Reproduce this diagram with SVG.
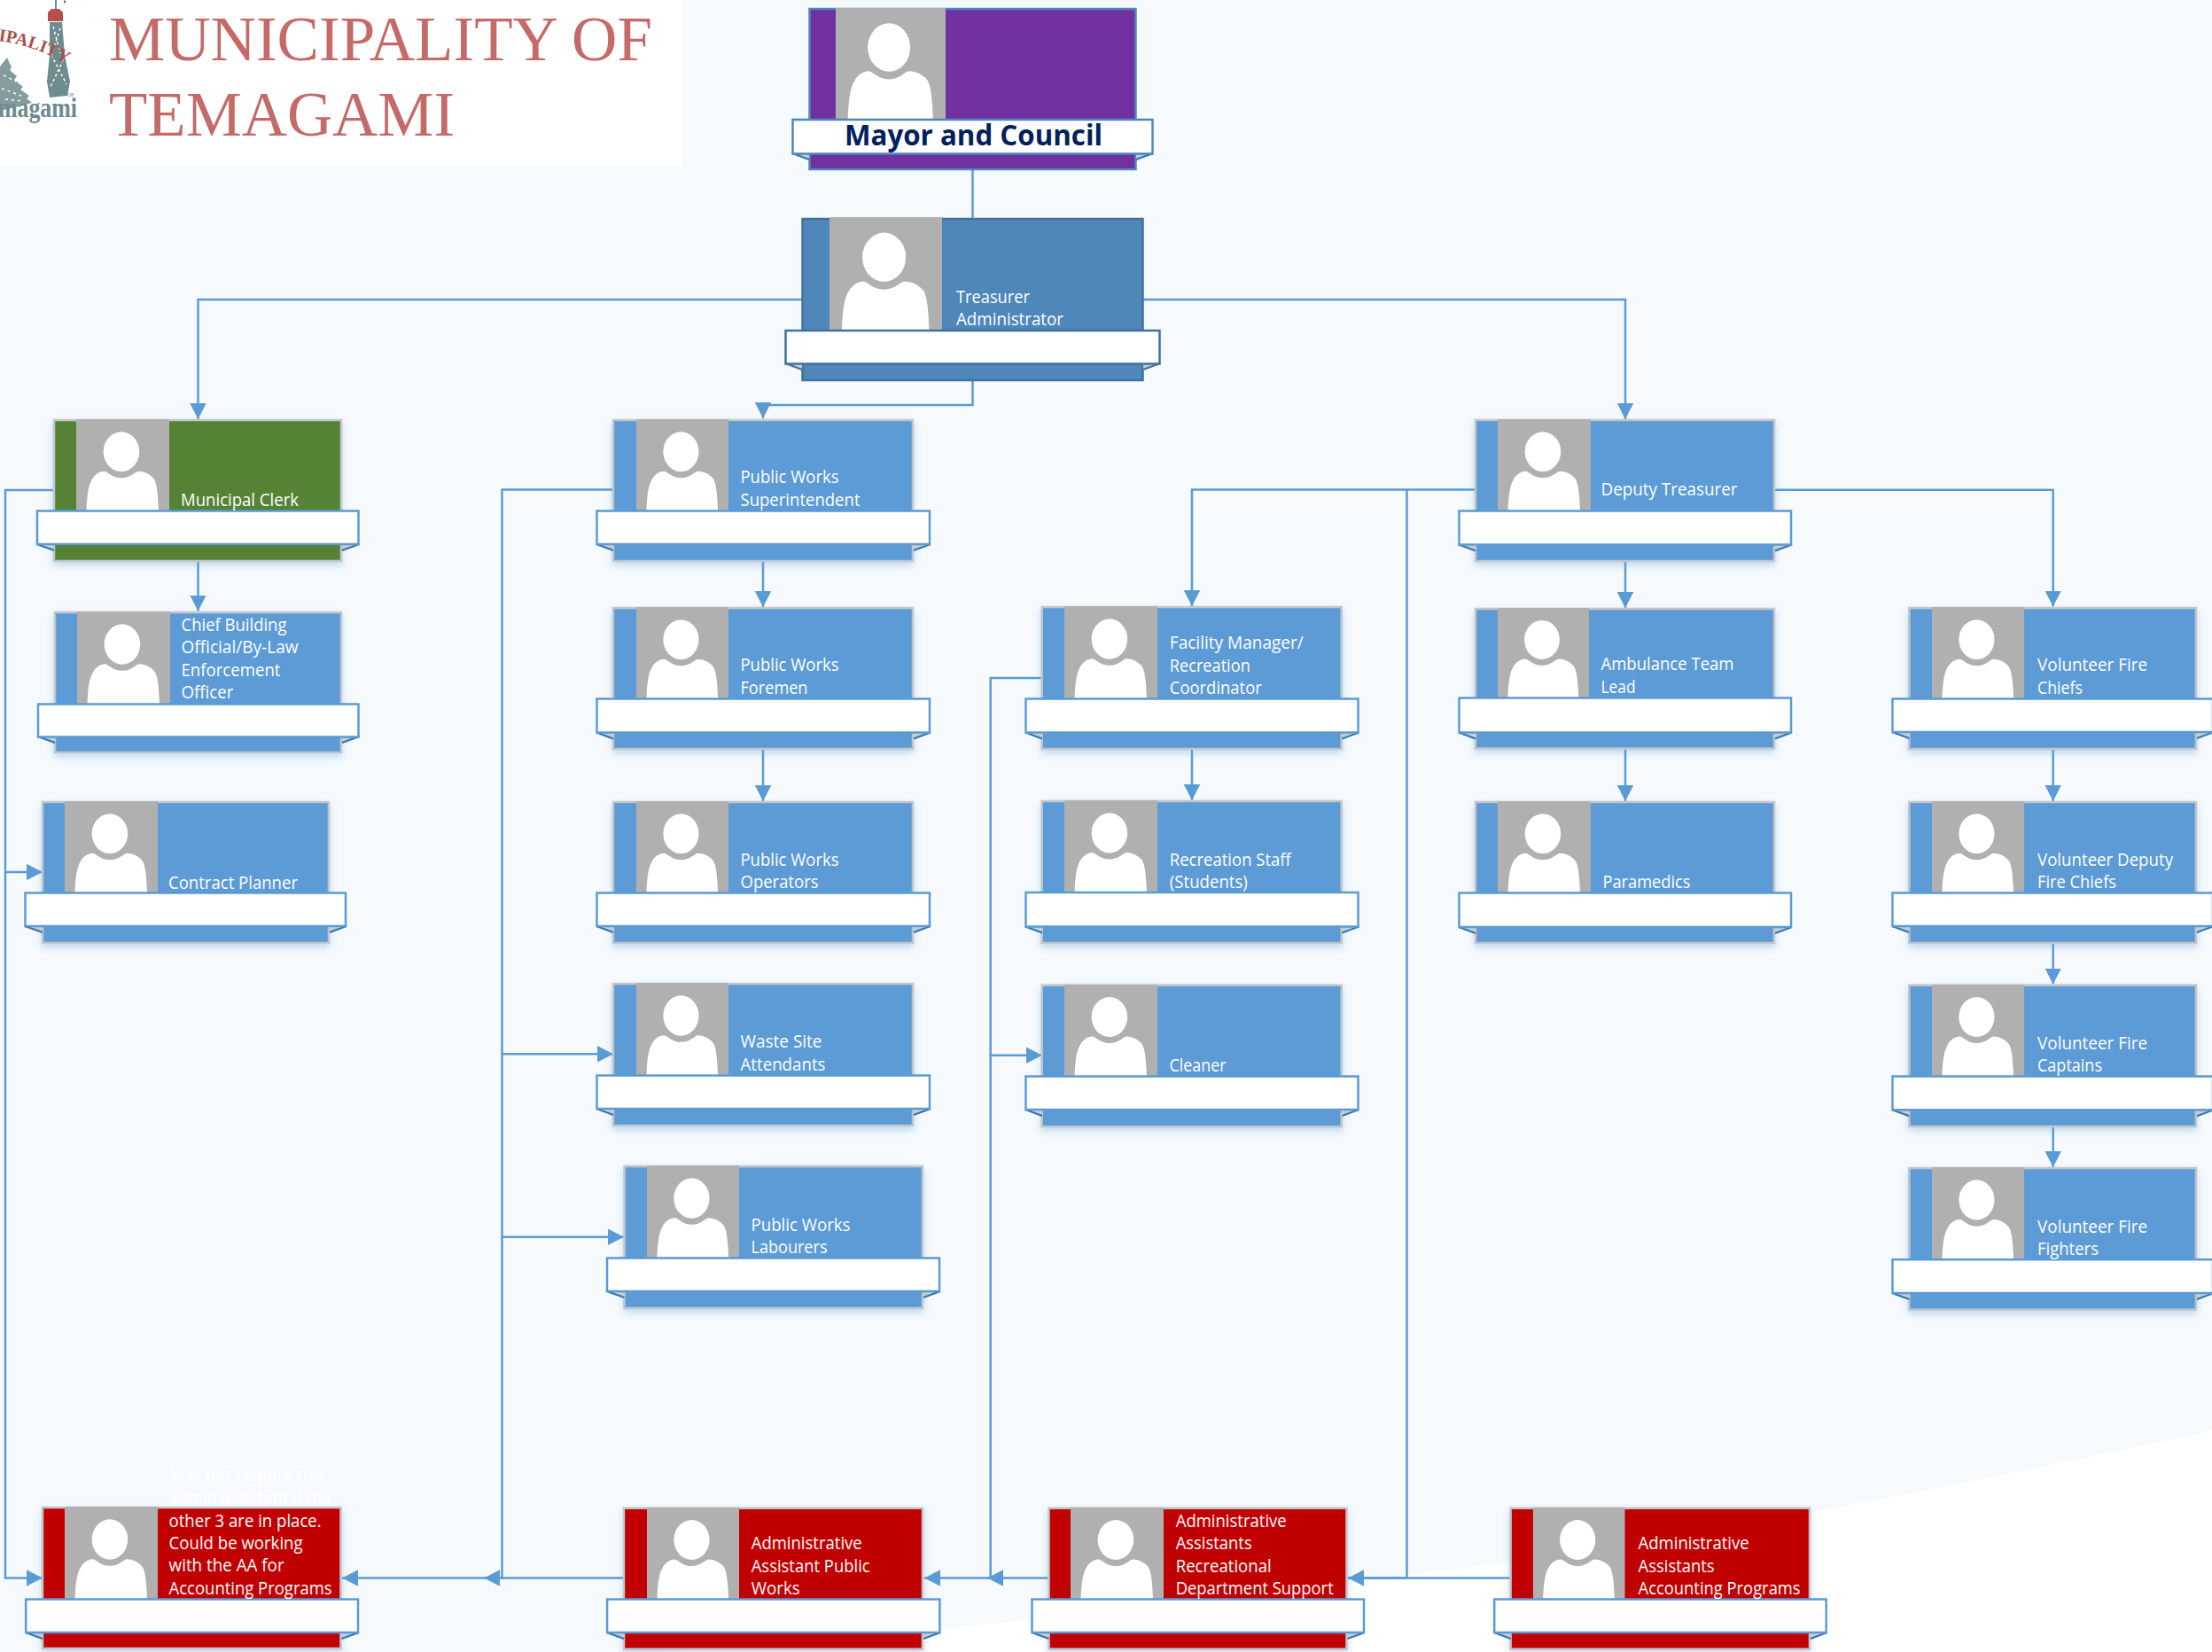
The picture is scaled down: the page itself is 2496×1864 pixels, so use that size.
<svg xmlns="http://www.w3.org/2000/svg" width="2496" height="1864" viewBox="0 0 2496 1864">
<style>
.card{stroke:#C2C6CA;stroke-width:2.5;filter:url(#sh)}
.blue{fill:#5B9BD5}.green{fill:#548235}.red{fill:#C00000}
.ban{fill:#fff;stroke:#5B9BD5;stroke-width:2.5}
.fg{fill:#CBCBCB;stroke:none}
.fl{fill:none;stroke:#2E75B6;stroke-width:2}
.t{font-family:"Open Sans","Noto Sans",sans-serif;font-size:19.5px;fill:#fff}
.c{fill:none;stroke:#5B9BD5;stroke-width:2.5}
.a{marker-end:url(#ah)}
.lt{font-family:"Liberation Serif",serif;font-size:72px;fill:#C46A68}
</style>
<defs>
<filter id="sh" x="-10%" y="-10%" width="120%" height="125%"><feDropShadow dx="0" dy="4" stdDeviation="4" flood-color="#5B9BD5" flood-opacity="0.35"/></filter>
<marker id="ah" markerUnits="userSpaceOnUse" markerWidth="19" markerHeight="19" refX="18" refY="9.25" orient="auto"><path d="M0,0L18,9.25L0,18.5Z" fill="#5B9BD5"/></marker>
<symbol id="p" viewBox="0 0 100 100" preserveAspectRatio="none">
<rect width="100" height="100" fill="#B0B0B0"/>
<ellipse cx="48.5" cy="35.6" rx="19.3" ry="21.8" fill="#fff"/>
<path d="M11,100C11.5,85 13,72 17,66C20,60 26,57 30,57C34,57 38,64.3 48.5,64.3C59,64.3 63,57 67,57C72,57 80,60 84,66C87,72 88,85 88.5,100Z" fill="#fff"/>
</symbol>
</defs>
<rect id="background" width="2496" height="1864" fill="#F6FAFD"/>
<path id="wedge" d="M2496,1614C2350,1646 2200,1677 2057,1704C1900,1734 1750,1757 1600,1776C1400,1802 1230,1822 1061,1838C950,1848 850,1856 750,1864H2496Z" fill="#fff"/>
<g id="logo">
<rect width="770" height="188" fill="#fff"/>
<path d="M56,25H70L73,62L79,92L76,108L56,110L53,92L56,62Z" fill="#6E8B8D"/>
<path d="M60,30L68,60M68,32L58,62M58,62L75,95M74,62L56,100" fill="none" stroke="#fff" stroke-width="1.500" stroke-dasharray="3 3"/>
<path d="M8,65L13,76L11,79L19,86L16,90L26,98L23,101L33,108L30,111L36,116L22,120L0,125V75Z" fill="#6E8B8D" opacity=".85"/>
<path d="M4,85L18,92M2,100L24,108M6,112L26,114" fill="none" stroke="#fff" stroke-width="1.500" stroke-dasharray="3 4"/>
<path d="M54,14L58,10H67L71,14V24H54Z" fill="#B5504A"/>
<rect x="62" y="0" width="2" height="10" fill="#6E8B8D"/>
<path d="M72,0L75,2L72,4Z" fill="#B5504A"/>
<path id="arc" d="M-2,46Q45,52 88,80" fill="none"/>
<text font-family="Liberation Serif,serif" font-size="20" font-weight="bold" fill="#A8524E"><textPath href="#arc">IPALITY</textPath></text>
<text x="76" y="109" font-family="Liberation Serif,serif" font-size="6" fill="#6E8B8D">OF</text>
<text x="-2" y="132" font-family="Liberation Serif,serif" font-size="32" font-weight="bold" fill="#6E8B8D" textLength="89" lengthAdjust="spacingAndGlyphs">magami</text>
<text class="lt" x="123" y="68" textLength="613" lengthAdjust="spacingAndGlyphs">MUNICIPALITY OF</text>
<text class="lt" x="123" y="153" textLength="390" lengthAdjust="spacingAndGlyphs">TEMAGAMI</text>
</g>
<g id="connectors">
<path class="c" d="M1097.5,191V247"/>
<path class="c a" d="M905,338H223.5V473"/>
<path class="c a" d="M1290,338H1834V473"/>
<path class="c a" d="M1097.5,429V457H861V472"/>
<path class="c a" d="M223.5,633V689.5"/>
<path class="c a" d="M61,553H6V984H48"/>
<path class="c a" d="M6,984V1780.5H48"/>
<path class="c a" d="M861,633V685"/>
<path class="c a" d="M861,845V904"/>
<path class="c a" d="M692,552.6H566.5V1189.3H692"/>
<path class="c a" d="M566.5,1189.3V1395.7H704"/>
<path class="c a" d="M566.5,1395.7V1780.5H546"/>
<path class="c a" d="M704,1780.5H386"/>
<path class="c a" d="M1665,552.6H1345V684"/>
<path class="c a" d="M1587.5,552.6V1780.5H1521"/>
<path class="c" d="M1704.6,1780.5H1521"/>
<path class="c a" d="M1183.5,1780.5H1043"/>
<path class="c a" d="M1175.7,765H1117.7V1190.7H1176"/>
<path class="c a" d="M1117.7,1190.7V1780.5H1114"/>
<path class="c a" d="M1345,845V903"/>
<path class="c a" d="M1834,633V686"/>
<path class="c a" d="M1834,844V904"/>
<path class="c a" d="M2003,552.7H2316.7V684.5"/>
<path class="c a" d="M2316.7,845V904"/>
<path class="c a" d="M2316.7,1064V1110.5"/>
<path class="c a" d="M2316.7,1271V1317"/>
</g>
<g id="mayor">
<rect x="913.500" y="10" width="368" height="181" fill="#7030A0" stroke="#4F87BA" stroke-width="2.5"/>
<use href="#p" x="943" y="9" width="124" height="125"/>
<path class="fg" d="M894,173H913V180Z"/><path class="fg" d="M1301,173H1282V180Z"/>
<path class="fl" d="M894,173L913,180M1301,173L1282,180"/>
<rect x="894.500" y="135" width="406" height="38.500" fill="#fff" stroke="#4F87BA" stroke-width="2.5"/>
<text x="953" y="164" font-family="Open Sans,Noto Sans,sans-serif" font-weight="bold" font-size="33" fill="#002060" textLength="291" lengthAdjust="spacingAndGlyphs">Mayor and Council</text>
</g>
<g id="treasurer">
<rect x="905.500" y="247" width="384" height="182" fill="#4F87BA" stroke="#41719C" stroke-width="2.5"/>
<use href="#p" x="936" y="245" width="127" height="127"/>
<path class="fg" d="M886,410H905V417Z"/><path class="fg" d="M1309,410H1290V417Z"/>
<path class="fl" d="M886,410L905,417M1309,410L1290,417" style="stroke:#41719C"/>
<rect x="886.500" y="373" width="422" height="37.500" fill="#fff" stroke="#41719C" stroke-width="2.5"/>
<text class="t" x="1079" y="341.500" textLength="83" lengthAdjust="spacingAndGlyphs">Treasurer</text>
<text class="t" x="1079" y="366.500" textLength="121" lengthAdjust="spacingAndGlyphs">Administrator</text>
</g>
<g id="municipal-clerk">
<rect class="card green" x="61" y="474" width="324" height="159"/>
<use href="#p" x="86" y="473" width="105" height="103"/>
<path class="fg" d="M41.5,614H61V621Z"/><path class="fg" d="M405.5,614H386V621Z"/>
<path class="fl" d="M41.5,614L61,621M405.5,614L386,621"/>
<rect class="ban" x="42" y="576.500" width="362.500" height="37.500"/>
<text class="t" x="204" y="571" textLength="133" lengthAdjust="spacingAndGlyphs">Municipal Clerk</text>
</g>
<g id="chief-building">
<rect class="card blue" x="62" y="691" width="323" height="158"/>
<use href="#p" x="87" y="690" width="105" height="104"/>
<path class="fg" d="M42.5,831H62V838Z"/><path class="fg" d="M405.5,831H386V838Z"/>
<path class="fl" d="M42.5,831L62,838M405.5,831L386,838"/>
<rect class="ban" x="43" y="794.500" width="361.500" height="37"/>
<text class="t" x="204.500" y="712" textLength="119" lengthAdjust="spacingAndGlyphs">Chief Building</text>
<text class="t" x="204.500" y="737" textLength="132" lengthAdjust="spacingAndGlyphs">Official/By-Law</text>
<text class="t" x="204.500" y="763" textLength="112" lengthAdjust="spacingAndGlyphs">Enforcement</text>
<text class="t" x="204.500" y="788" textLength="59" lengthAdjust="spacingAndGlyphs">Officer</text>
</g>
<g id="contract-planner">
<rect class="card blue" x="48" y="905" width="323" height="159"/>
<use href="#p" x="73" y="904" width="105" height="103"/>
<path class="fg" d="M28,1045H48V1052Z"/><path class="fg" d="M391,1045H372V1052Z"/>
<path class="fl" d="M28,1045L48,1052M391,1045L372,1052"/>
<rect class="ban" x="28.500" y="1007.500" width="361.500" height="37.500"/>
<text class="t" x="190" y="1002.500" textLength="146" lengthAdjust="spacingAndGlyphs">Contract Planner</text>
</g>
<g id="pw-superintendent">
<rect class="card blue" x="692" y="474" width="338" height="159"/>
<use href="#p" x="718" y="473" width="104" height="103"/>
<path class="fg" d="M673,614H692V621Z"/><path class="fg" d="M1050,614H1031V621Z"/>
<path class="fl" d="M673,614L692,621M1050,614L1031,621"/>
<rect class="ban" x="673.500" y="576.500" width="375.500" height="37.500"/>
<text class="t" x="835.500" y="545" textLength="111" lengthAdjust="spacingAndGlyphs">Public Works</text>
<text class="t" x="835.500" y="571" textLength="135" lengthAdjust="spacingAndGlyphs">Superintendent</text>
</g>
<g id="pw-foremen">
<rect class="card blue" x="692" y="686" width="338" height="159"/>
<use href="#p" x="718" y="685" width="104" height="103"/>
<path class="fg" d="M673,826.500H692V833.500Z"/><path class="fg" d="M1050,826.500H1031V833.500Z"/>
<path class="fl" d="M673,826.500L692,833.500M1050,826.500L1031,833.500"/>
<rect class="ban" x="673.500" y="788.500" width="375.500" height="38"/>
<text class="t" x="835.500" y="757" textLength="111" lengthAdjust="spacingAndGlyphs">Public Works</text>
<text class="t" x="835.500" y="783" textLength="76" lengthAdjust="spacingAndGlyphs">Foremen</text>
</g>
<g id="pw-operators">
<rect class="card blue" x="692" y="905" width="338" height="159"/>
<use href="#p" x="718" y="904" width="104" height="103"/>
<path class="fg" d="M673,1045H692V1052Z"/><path class="fg" d="M1050,1045H1031V1052Z"/>
<path class="fl" d="M673,1045L692,1052M1050,1045L1031,1052"/>
<rect class="ban" x="673.500" y="1007.500" width="375.500" height="37.500"/>
<text class="t" x="835.500" y="977" textLength="111" lengthAdjust="spacingAndGlyphs">Public Works</text>
<text class="t" x="835.500" y="1002" textLength="88" lengthAdjust="spacingAndGlyphs">Operators</text>
</g>
<g id="waste-site">
<rect class="card blue" x="692" y="1110" width="338" height="160"/>
<use href="#p" x="718" y="1109" width="104" height="104"/>
<path class="fg" d="M673,1251H692V1258Z"/><path class="fg" d="M1050,1251H1031V1258Z"/>
<path class="fl" d="M673,1251L692,1258M1050,1251L1031,1258"/>
<rect class="ban" x="673.500" y="1213.500" width="375.500" height="37.500"/>
<text class="t" x="835.500" y="1181.700" textLength="92" lengthAdjust="spacingAndGlyphs">Waste Site</text>
<text class="t" x="835.500" y="1208" textLength="96" lengthAdjust="spacingAndGlyphs">Attendants</text>
</g>
<g id="pw-labourers">
<rect class="card blue" x="704.500" y="1316" width="336.500" height="160"/>
<use href="#p" x="730" y="1315" width="104" height="104"/>
<path class="fg" d="M684.600,1457H704.500V1464Z"/><path class="fg" d="M1061,1457H1042V1464Z"/>
<path class="fl" d="M684.600,1457L704.500,1464M1061,1457L1042,1464"/>
<rect class="ban" x="685" y="1419.500" width="375" height="37.500"/>
<text class="t" x="847.500" y="1388.500" textLength="112" lengthAdjust="spacingAndGlyphs">Public Works</text>
<text class="t" x="847.500" y="1414" textLength="86" lengthAdjust="spacingAndGlyphs">Labourers</text>
</g>
<g id="facility-manager">
<rect class="card blue" x="1175.700" y="685" width="338" height="160"/>
<use href="#p" x="1201" y="684" width="105" height="104"/>
<path class="fg" d="M1157,826.500H1176V833.500Z"/><path class="fg" d="M1533.500,826.500H1514.500V833.500Z"/>
<path class="fl" d="M1157,826.500L1176,833.500M1533.500,826.500L1514.500,833.500"/>
<rect class="ban" x="1157.500" y="788.500" width="375" height="38"/>
<text class="t" x="1319.800" y="732" textLength="151" lengthAdjust="spacingAndGlyphs">Facility Manager/</text>
<text class="t" x="1319.800" y="757.500" textLength="91" lengthAdjust="spacingAndGlyphs">Recreation</text>
<text class="t" x="1319.800" y="783.200" textLength="104" lengthAdjust="spacingAndGlyphs">Coordinator</text>
</g>
<g id="recreation-staff">
<rect class="card blue" x="1175.700" y="904" width="338" height="160"/>
<use href="#p" x="1201" y="903" width="105" height="103.500"/>
<path class="fg" d="M1157,1045.500H1176V1052.500Z"/><path class="fg" d="M1533.500,1045.500H1514.500V1052.500Z"/>
<path class="fl" d="M1157,1045.500L1176,1052.500M1533.500,1045.500L1514.500,1052.500"/>
<rect class="ban" x="1157.500" y="1007" width="375" height="38.500"/>
<text class="t" x="1319.800" y="977" textLength="137" lengthAdjust="spacingAndGlyphs">Recreation Staff</text>
<text class="t" x="1319.800" y="1002" textLength="88" lengthAdjust="spacingAndGlyphs">(Students)</text>
</g>
<g id="cleaner">
<rect class="card blue" x="1175.700" y="1111.700" width="338" height="159.500"/>
<use href="#p" x="1201" y="1110.700" width="105" height="103.300"/>
<path class="fg" d="M1157,1252H1176V1259Z"/><path class="fg" d="M1533.500,1252H1514.500V1259Z"/>
<path class="fl" d="M1157,1252L1176,1259M1533.500,1252L1514.500,1259"/>
<rect class="ban" x="1157.500" y="1214.500" width="375" height="37.500"/>
<text class="t" x="1319.500" y="1209" textLength="64" lengthAdjust="spacingAndGlyphs">Cleaner</text>
</g>
<g id="deputy-treasurer">
<rect class="card blue" x="1665" y="474" width="337" height="159"/>
<use href="#p" x="1690" y="473" width="105" height="103"/>
<path class="fg" d="M1646,614.500H1665V621.500Z"/><path class="fg" d="M2022,614.500H2003V621.500Z"/>
<path class="fl" d="M1646,614.500L1665,621.500M2022,614.500L2003,621.500"/>
<rect class="ban" x="1646.500" y="576.500" width="374.500" height="38"/>
<text class="t" x="1806.500" y="559" textLength="154" lengthAdjust="spacingAndGlyphs">Deputy Treasurer</text>
</g>
<g id="ambulance">
<rect class="card blue" x="1665" y="687" width="337" height="157.500"/>
<use href="#p" x="1690" y="686" width="103" height="101"/>
<path class="fg" d="M1646,826.500H1665V833.500Z"/><path class="fg" d="M2022,826.500H2003V833.500Z"/>
<path class="fl" d="M1646,826.500L1665,833.500M2022,826.500L2003,833.500"/>
<rect class="ban" x="1646.500" y="787.500" width="374.500" height="39"/>
<text class="t" x="1806.500" y="756" textLength="150" lengthAdjust="spacingAndGlyphs">Ambulance Team</text>
<text class="t" x="1806.500" y="782" textLength="39" lengthAdjust="spacingAndGlyphs">Lead</text>
</g>
<g id="paramedics">
<rect class="card blue" x="1665" y="905" width="337" height="159"/>
<use href="#p" x="1690" y="904" width="105" height="103"/>
<path class="fg" d="M1646,1046H1665V1053Z"/><path class="fg" d="M2022,1046H2003V1053Z"/>
<path class="fl" d="M1646,1046L1665,1053M2022,1046L2003,1053"/>
<rect class="ban" x="1646.500" y="1007.500" width="374.500" height="38.500"/>
<text class="t" x="1808.500" y="1001.500" textLength="99" lengthAdjust="spacingAndGlyphs">Paramedics</text>
</g>
<g id="fire-chiefs">
<rect class="card blue" x="2154.300" y="686" width="323.700" height="159"/>
<use href="#p" x="2180" y="685" width="104" height="103"/>
<path class="fg" d="M2135,826H2154.300V833Z"/><path class="fg" d="M2498,826H2479V833Z"/>
<path class="fl" d="M2135,826L2154.300,833M2498,826L2479,833"/>
<rect class="ban" x="2135.500" y="788.500" width="361.500" height="37.500"/>
<text class="t" x="2299" y="756.700" textLength="124" lengthAdjust="spacingAndGlyphs">Volunteer Fire</text>
<text class="t" x="2299" y="782.700" textLength="51" lengthAdjust="spacingAndGlyphs">Chiefs</text>
</g>
<g id="deputy-fire-chiefs">
<rect class="card blue" x="2154.300" y="905" width="323.700" height="159"/>
<use href="#p" x="2180" y="904" width="104" height="103"/>
<path class="fg" d="M2135,1045H2154.300V1052Z"/><path class="fg" d="M2498,1045H2479V1052Z"/>
<path class="fl" d="M2135,1045L2154.300,1052M2498,1045L2479,1052"/>
<rect class="ban" x="2135.500" y="1007.500" width="361.500" height="37.500"/>
<text class="t" x="2299" y="976.700" textLength="153" lengthAdjust="spacingAndGlyphs">Volunteer Deputy</text>
<text class="t" x="2299" y="1001.700" textLength="89" lengthAdjust="spacingAndGlyphs">Fire Chiefs</text>
</g>
<g id="fire-captains">
<rect class="card blue" x="2154.300" y="1111.700" width="323.700" height="159.300"/>
<use href="#p" x="2180" y="1110.700" width="104" height="103.300"/>
<path class="fg" d="M2135,1252.300H2154.300V1259.300Z"/><path class="fg" d="M2498,1252.300H2479V1259.300Z"/>
<path class="fl" d="M2135,1252.300L2154.300,1259.300M2498,1252.300L2479,1259.300"/>
<rect class="ban" x="2135.500" y="1214.500" width="361.500" height="37.800"/>
<text class="t" x="2299" y="1184" textLength="124" lengthAdjust="spacingAndGlyphs">Volunteer Fire</text>
<text class="t" x="2299" y="1209" textLength="73" lengthAdjust="spacingAndGlyphs">Captains</text>
</g>
<g id="fire-fighters">
<rect class="card blue" x="2154.300" y="1318" width="323.700" height="159.700"/>
<use href="#p" x="2180" y="1317" width="104" height="103.700"/>
<path class="fg" d="M2135,1459H2154.300V1466Z"/><path class="fg" d="M2498,1459H2479V1466Z"/>
<path class="fl" d="M2135,1459L2154.300,1466M2498,1459L2479,1466"/>
<rect class="ban" x="2135.500" y="1421.200" width="361.500" height="37.800"/>
<text class="t" x="2299" y="1390.700" textLength="124" lengthAdjust="spacingAndGlyphs">Volunteer Fire</text>
<text class="t" x="2299" y="1416" textLength="69" lengthAdjust="spacingAndGlyphs">Fighters</text>
</g>
<g id="aa-left">
<rect class="card red" x="48" y="1701" width="336.500" height="159"/>
<use href="#p" x="73" y="1700" width="105" height="104"/>
<path class="fg" d="M28.700,1842H48V1849Z"/><path class="fg" d="M405,1842H385.500V1849Z"/>
<path class="fl" d="M28.700,1842L48,1849M405,1842L385.500,1849"/>
<rect class="ban" x="29.200" y="1804.500" width="374.800" height="37.500"/>
<text class="t" x="190.600" y="1670.700" textLength="176" lengthAdjust="spacingAndGlyphs">May not require this</text>
<text class="t" x="190.600" y="1696.700" textLength="183" lengthAdjust="spacingAndGlyphs">admin assistant if the</text>
<text class="t" x="190.600" y="1722.700" textLength="172" lengthAdjust="spacingAndGlyphs">other 3 are in place.</text>
<text class="t" x="190.600" y="1747.700" textLength="151" lengthAdjust="spacingAndGlyphs">Could be working</text>
<text class="t" x="190.600" y="1773.300" textLength="130" lengthAdjust="spacingAndGlyphs">with the AA for</text>
<text class="t" x="190.600" y="1799" textLength="184" lengthAdjust="spacingAndGlyphs">Accounting Programs</text>
</g>
<g id="aa-public-works">
<rect class="card red" x="704" y="1701.700" width="337" height="159"/>
<use href="#p" x="730" y="1700.700" width="104" height="103.300"/>
<path class="fg" d="M684.600,1842H704V1849Z"/><path class="fg" d="M1061.400,1842H1042V1849Z"/>
<path class="fl" d="M684.600,1842L704,1849M1061.400,1842L1042,1849"/>
<rect class="ban" x="685.100" y="1804.500" width="375.300" height="37.500"/>
<text class="t" x="847.700" y="1747.500" textLength="125" lengthAdjust="spacingAndGlyphs">Administrative</text>
<text class="t" x="847.700" y="1773.500" textLength="134" lengthAdjust="spacingAndGlyphs">Assistant Public</text>
<text class="t" x="847.700" y="1798.500" textLength="55" lengthAdjust="spacingAndGlyphs">Works</text>
</g>
<g id="aa-recreational">
<rect class="card red" x="1183.500" y="1701.700" width="336" height="159"/>
<use href="#p" x="1208" y="1700.700" width="105" height="103.300"/>
<path class="fg" d="M1164,1842H1183.500V1849Z"/><path class="fg" d="M1540,1842H1520.500V1849Z"/>
<path class="fl" d="M1164,1842L1183.500,1849M1540,1842L1520.500,1849"/>
<rect class="ban" x="1164.500" y="1804.500" width="374.500" height="37.500"/>
<text class="t" x="1326.700" y="1722.500" textLength="125" lengthAdjust="spacingAndGlyphs">Administrative</text>
<text class="t" x="1326.700" y="1747.500" textLength="86" lengthAdjust="spacingAndGlyphs">Assistants</text>
<text class="t" x="1326.700" y="1773.500" textLength="108" lengthAdjust="spacingAndGlyphs">Recreational</text>
<text class="t" x="1326.700" y="1798.500" textLength="178" lengthAdjust="spacingAndGlyphs">Department Support</text>
</g>
<g id="aa-accounting">
<rect class="card red" x="1704.600" y="1701.700" width="337.400" height="159"/>
<use href="#p" x="1729.700" y="1700.700" width="104" height="103.300"/>
<path class="fg" d="M1685.700,1842H1704.600V1849Z"/><path class="fg" d="M2061.700,1842H2043V1849Z"/>
<path class="fl" d="M1685.700,1842L1704.600,1849M2061.700,1842L2043,1849"/>
<rect class="ban" x="1686.200" y="1804.500" width="374.500" height="37.500"/>
<text class="t" x="1848.600" y="1748" textLength="125" lengthAdjust="spacingAndGlyphs">Administrative</text>
<text class="t" x="1848.600" y="1774" textLength="86" lengthAdjust="spacingAndGlyphs">Assistants</text>
<text class="t" x="1848.600" y="1799" textLength="183" lengthAdjust="spacingAndGlyphs">Accounting Programs</text>
</g>
</svg>
